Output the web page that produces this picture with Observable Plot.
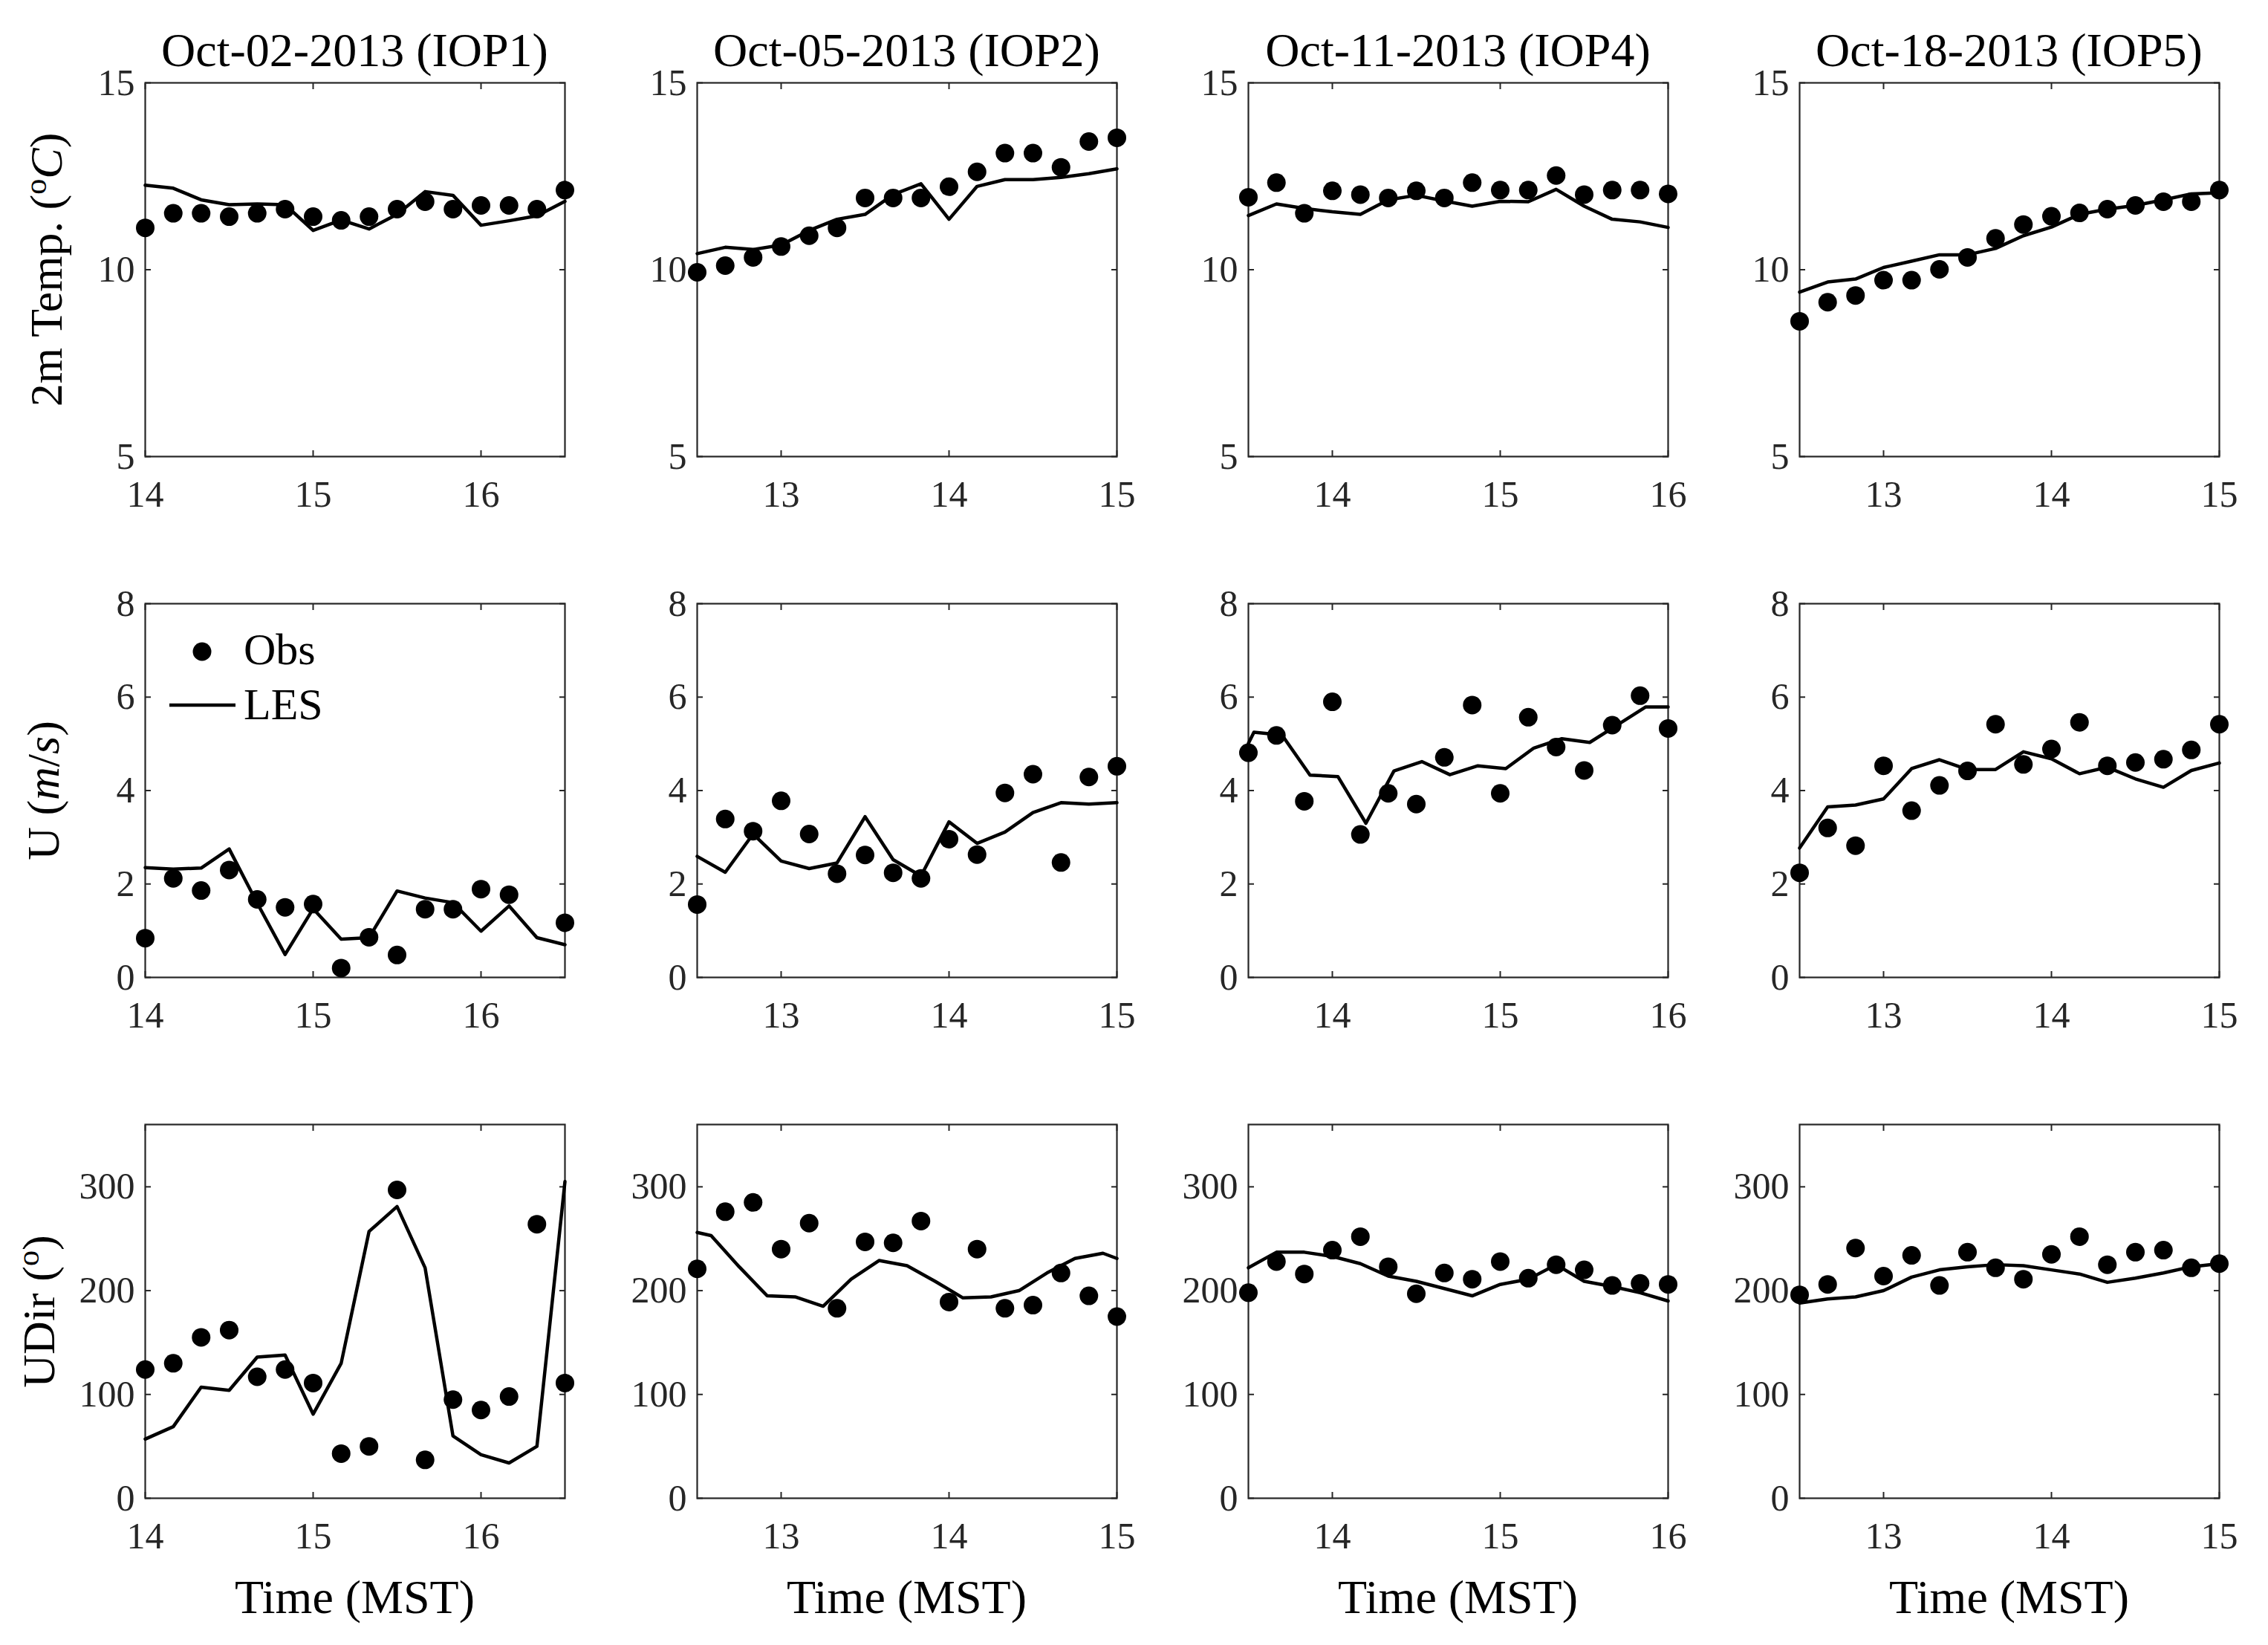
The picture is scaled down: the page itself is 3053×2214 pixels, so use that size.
<!DOCTYPE html>
<html>
<head>
<meta charset="utf-8">
<script src="https://cdn.jsdelivr.net/npm/d3@7"></script>
<script src="https://cdn.jsdelivr.net/npm/@observablehq/plot@0.6"></script>
<style>
html, body { margin:0; padding:0; background:#ffffff; }
#root { position:relative; width:3053px; height:2214px; overflow:hidden; background:#fff; font-family:"Liberation Serif","DejaVu Serif",serif; }
.panel { position:absolute; }
.panel svg { display:block; max-width:none; overflow:visible; }
.txt { position:absolute; white-space:nowrap; color:#000; line-height:1; }
.title { font-size:64px; transform:translate(-50%,-50%); }
.xlab { font-size:64px; transform:translate(-50%,-50%); }
.ylab { font-size:62px; transform:translate(-50%,-50%) rotate(-90deg); }
sup { font-size:0.68em; vertical-align:0.5em; line-height:0; }
#legend { position:absolute; left:0; top:0; }
</style>
</head>
<body>
<div id="root"></div>
<script>
// ---------- data ----------
const titles = ["Oct-02-2013 (IOP1)", "Oct-05-2013 (IOP2)", "Oct-11-2013 (IOP4)", "Oct-18-2013 (IOP5)"];
const rowLabels = ["2m Temp. (<sup>o</sup><i>C</i>)", "U (<i>m</i>/<i>s</i>)", "UDir (<sup>o</sup>)"];
const xLabel = "Time (MST)";
const legendLabels = ["Obs", "LES"];

const xDomainIOP1 = [14, 16.5], xTicksIOP1 = [14, 15, 16];
const xDomainIOP2 = [12.5, 15], xTicksIOP2 = [13, 14, 15];
const xDomainIOP4 = [13.5, 16], xTicksIOP4 = [14, 15, 16];
const xDomainIOP5 = [12.5, 15], xTicksIOP5 = [13, 14, 15];

const yDomainTemp = [5, 15], yTicksTemp = [5, 10, 15];
const yDomainU = [0, 8], yTicksU = [0, 2, 4, 6, 8];
const yDomainDir = [0, 360], yTicksDir = [0, 100, 200, 300];

const timeIOP1 = [14.0, 14.167, 14.333, 14.5, 14.667, 14.833, 15.0, 15.167, 15.333, 15.5, 15.667, 15.833, 16.0, 16.167, 16.333, 16.5];
const timeIOP2 = [12.5, 12.667, 12.833, 13.0, 13.167, 13.333, 13.5, 13.667, 13.833, 14.0, 14.167, 14.333, 14.5, 14.667, 14.833, 15.0];
const timeIOP4 = [13.5, 13.667, 13.833, 14.0, 14.167, 14.333, 14.5, 14.667, 14.833, 15.0, 15.167, 15.333, 15.5, 15.667, 15.833, 16.0];
const timeIOP5 = [12.5, 12.667, 12.833, 13.0, 13.167, 13.333, 13.5, 13.667, 13.833, 14.0, 14.167, 14.333, 14.5, 14.667, 14.833, 15.0];

// 2 m temperature
const tempObsIOP1 = [11.12, 11.51, 11.51, 11.42, 11.51, 11.62, 11.42, 11.32, 11.42, 11.62, 11.82, 11.62, 11.72, 11.72, 11.62, 12.13];
const tempLesIOP1 = [12.26, 12.18, 11.87, 11.74, 11.76, 11.74, 11.05, 11.33, 11.09, 11.48, 12.09, 11.99, 11.19, 11.31, 11.44, 11.83];
const tempObsIOP2 = [9.93, 10.11, 10.33, 10.62, 10.91, 11.12, 11.92, 11.92, 11.92, 12.22, 12.62, 13.12, 13.12, 12.74, 13.43, 13.53];
const tempLesIOP2 = [10.43, 10.60, 10.54, 10.66, 11.05, 11.35, 11.48, 12.01, 12.30, 11.35, 12.23, 12.41, 12.41, 12.47, 12.57, 12.70];
const tempObsIOP4 = [11.94, 12.33, 11.51, 12.11, 12.01, 11.92, 12.11, 11.92, 12.33, 12.13, 12.13, 12.52, 12.01, 12.13, 12.13, 12.03];
const tempLesIOP4 = [11.45, 11.76, 11.64, 11.55, 11.48, 11.87, 11.99, 11.84, 11.70, 11.83, 11.82, 12.15, 11.70, 11.35, 11.28, 11.13];
const tempObsIOP5 = [8.62, 9.13, 9.31, 9.72, 9.72, 10.01, 10.33, 10.84, 11.21, 11.43, 11.52, 11.62, 11.72, 11.82, 11.82, 12.13];
const tempLesIOP5 = [9.40, 9.67, 9.75, 10.06, 10.23, 10.40, 10.40, 10.57, 10.91, 11.14, 11.48, 11.62, 11.72, 11.87, 12.03, 12.06];

// wind speed U
const uObsIOP1 = [0.84, 2.12, 1.86, 2.30, 1.67, 1.50, 1.57, 0.20, 0.86, 0.48, 1.46, 1.46, 1.89, 1.77, null, 1.17];
const uLesIOP1 = [2.35, 2.32, 2.34, 2.75, 1.59, 0.49, 1.47, 0.82, 0.85, 1.85, 1.70, 1.60, 0.99, 1.53, 0.85, 0.70];
const uObsIOP2 = [1.56, 3.39, 3.13, 3.78, 3.07, 2.22, 2.62, 2.24, 2.12, 2.96, 2.63, 3.95, 4.35, 2.46, 4.29, 4.52];
const uLesIOP2 = [2.59, 2.25, 3.07, 2.49, 2.33, 2.45, 3.44, 2.52, 2.17, 3.33, 2.87, 3.11, 3.53, 3.74, 3.71, 3.74];
const uObsIOP4 = [4.81, 5.18, 3.77, 5.90, 3.06, 3.94, 3.71, 4.71, 5.83, 3.94, 5.57, 4.93, 4.43, 5.40, 6.03, 5.33];
const uLesTimeIOP4 = [13.5, 13.533, 13.7, 13.867, 14.033, 14.2, 14.367, 14.533, 14.7, 14.867, 15.033, 15.2, 15.367, 15.533, 15.7, 15.867, 16.0];
const uLesIOP4 = [5.01, 5.25, 5.19, 4.33, 4.30, 3.30, 4.42, 4.62, 4.34, 4.53, 4.47, 4.91, 5.11, 5.03, 5.41, 5.79, 5.79];
const uObsIOP5 = [2.24, 3.20, 2.82, 4.53, 3.57, 4.11, 4.42, 5.42, 4.56, 4.89, 5.46, 4.53, 4.60, 4.67, 4.87, 5.42];
const uLesIOP5 = [2.77, 3.65, 3.69, 3.82, 4.47, 4.66, 4.45, 4.45, 4.83, 4.68, 4.36, 4.50, 4.25, 4.07, 4.43, 4.59];

// wind direction
const dirObsIOP1 = [124, 130, 155, 162, 117, 124, 111, 43, 50, 297, 37, 95, 85, 98, 264, 111];
const dirLesIOP1 = [57, 69, 107, 104, 136, 138, 81, 130, 257, 281, 222, 60, 42, 34, 50, 305];
const dirObsIOP2 = [221, 276, 285, 240, 265, 183, 247, 246, 267, 189, 240, 183, 186, 217, 195, 175];
const dirLesTimeIOP2 = [12.5, 12.583, 12.75, 12.917, 13.083, 13.25, 13.417, 13.583, 13.75, 13.917, 14.083, 14.25, 14.417, 14.583, 14.75, 14.917, 15.0];
const dirLesIOP2 = [256, 253, 223, 195, 194, 185, 211, 229, 224, 209, 193, 194, 200, 217, 231, 236, 231];
const dirObsIOP4 = [198, 228, 216, 239, 252, 223, 197, 217, 211, 228, 212, 225, 220, 205, 207, 206];
const dirLesIOP4 = [222, 237, 237, 233, 226, 214, 209, 202, 195, 206, 211, 225, 209, 204, 198, 190];
const dirObsIOP5 = [196, 206, 241, 214, 234, 205, 237, 222, 211, 235, 252, 225, 237, 239, 222, 226];
const dirLesIOP5 = [188, 192, 194, 200, 213, 220, 223, 225, 224, 220, 216, 208, 212, 217, 223, 226];

// ---------- layout ----------
const colLeft = [195, 938, 1680, 2422];
const rowTop = [111, 812, 1513];
const PW = 565, PH = 503;
const mL = 150, mR = 40, mT = 40, mB = 110;
const AX = "#262626";
const fmt = d => String(d);

const root = document.getElementById("root");

function panel(col, row, xDomain, xTicks, yDomain, yTicks, lesT, lesV, obsT, obsV) {
  const les = lesT.map((t, i) => ({t, v: lesV[i]}));
  const obs = obsT.map((t, i) => ({t, v: obsV[i]})).filter(d => d.v != null);
  const chart = Plot.plot({
    width: PW + mL + mR, height: PH + mT + mB,
    marginLeft: mL, marginRight: mR, marginTop: mT, marginBottom: mB,
    style: {background: "transparent", fontFamily: '"Liberation Serif", serif', fontSize: "50px", color: AX, overflow: "visible"},
    x: {domain: xDomain},
    y: {domain: yDomain},
    marks: [
      Plot.axisX({ticks: xTicks, tickFormat: fmt, anchor: "bottom", tickSize: -8, tickPadding: 40, strokeWidth: 2, label: null, fontSize: 50}),
      Plot.axisX({ticks: xTicks, anchor: "top", tickSize: -8, strokeWidth: 2, label: null, tickFormat: () => ""}),
      Plot.axisY({ticks: yTicks, tickFormat: fmt, anchor: "left", tickSize: -8, tickPadding: 22, strokeWidth: 2, label: null, fontSize: 50}),
      Plot.axisY({ticks: yTicks, anchor: "right", tickSize: -8, strokeWidth: 2, label: null, tickFormat: () => ""}),
      Plot.frame({stroke: AX, strokeWidth: 2.2}),
      Plot.line(les, {x: "t", y: "v", stroke: "#000", strokeWidth: 4.5}),
      Plot.dot(obs, {x: "t", y: "v", r: 12.5, fill: "#000", stroke: "none"})
    ]
  });
  const div = document.createElement("div");
  div.className = "panel";
  div.style.left = (colLeft[col] - mL) + "px";
  div.style.top = (rowTop[row] - mT) + "px";
  div.style.width = (PW + mL + mR) + "px";
  div.appendChild(chart);
  root.appendChild(div);
}

panel(0, 0, xDomainIOP1, xTicksIOP1, yDomainTemp, yTicksTemp, timeIOP1, tempLesIOP1, timeIOP1, tempObsIOP1);
panel(1, 0, xDomainIOP2, xTicksIOP2, yDomainTemp, yTicksTemp, timeIOP2, tempLesIOP2, timeIOP2, tempObsIOP2);
panel(2, 0, xDomainIOP4, xTicksIOP4, yDomainTemp, yTicksTemp, timeIOP4, tempLesIOP4, timeIOP4, tempObsIOP4);
panel(3, 0, xDomainIOP5, xTicksIOP5, yDomainTemp, yTicksTemp, timeIOP5, tempLesIOP5, timeIOP5, tempObsIOP5);

panel(0, 1, xDomainIOP1, xTicksIOP1, yDomainU, yTicksU, timeIOP1, uLesIOP1, timeIOP1, uObsIOP1);
panel(1, 1, xDomainIOP2, xTicksIOP2, yDomainU, yTicksU, timeIOP2, uLesIOP2, timeIOP2, uObsIOP2);
panel(2, 1, xDomainIOP4, xTicksIOP4, yDomainU, yTicksU, uLesTimeIOP4, uLesIOP4, timeIOP4, uObsIOP4);
panel(3, 1, xDomainIOP5, xTicksIOP5, yDomainU, yTicksU, timeIOP5, uLesIOP5, timeIOP5, uObsIOP5);

panel(0, 2, xDomainIOP1, xTicksIOP1, yDomainDir, yTicksDir, timeIOP1, dirLesIOP1, timeIOP1, dirObsIOP1);
panel(1, 2, xDomainIOP2, xTicksIOP2, yDomainDir, yTicksDir, dirLesTimeIOP2, dirLesIOP2, timeIOP2, dirObsIOP2);
panel(2, 2, xDomainIOP4, xTicksIOP4, yDomainDir, yTicksDir, timeIOP4, dirLesIOP4, timeIOP4, dirObsIOP4);
panel(3, 2, xDomainIOP5, xTicksIOP5, yDomainDir, yTicksDir, timeIOP5, dirLesIOP5, timeIOP5, dirObsIOP5);

// ---------- text ----------
function addText(cls, html, x, y) {
  const d = document.createElement("div");
  d.className = "txt " + cls;
  d.innerHTML = html;
  d.style.left = x + "px";
  d.style.top = y + "px";
  root.appendChild(d);
}
titles.forEach((t, i) => addText("title", t, colLeft[i] + PW / 2, 68));
const ylabX = [62, 58, 52];
rowLabels.forEach((t, r) => addText("ylab", t, ylabX[r], rowTop[r] + PH / 2));
colLeft.forEach(x => addText("xlab", xLabel, x + PW / 2, 2150));

// ---------- legend (inside U panel of IOP1) ----------
const NS = "http://www.w3.org/2000/svg";
const lg = document.createElementNS(NS, "svg");
lg.setAttribute("id", "legend");
lg.setAttribute("width", 3053);
lg.setAttribute("height", 2214);
lg.innerHTML =
  `<circle cx="272" cy="877" r="12.5" fill="#000"/>` +
  `<line x1="228" x2="317" y1="949" y2="949" stroke="#000" stroke-width="4.5"/>` +
  `<text x="328" y="894" font-family="Liberation Serif, serif" font-size="60" fill="#000">${legendLabels[0]}</text>` +
  `<text x="328" y="968" font-family="Liberation Serif, serif" font-size="60" fill="#000">${legendLabels[1]}</text>`;
root.appendChild(lg);
</script>
</body>
</html>
